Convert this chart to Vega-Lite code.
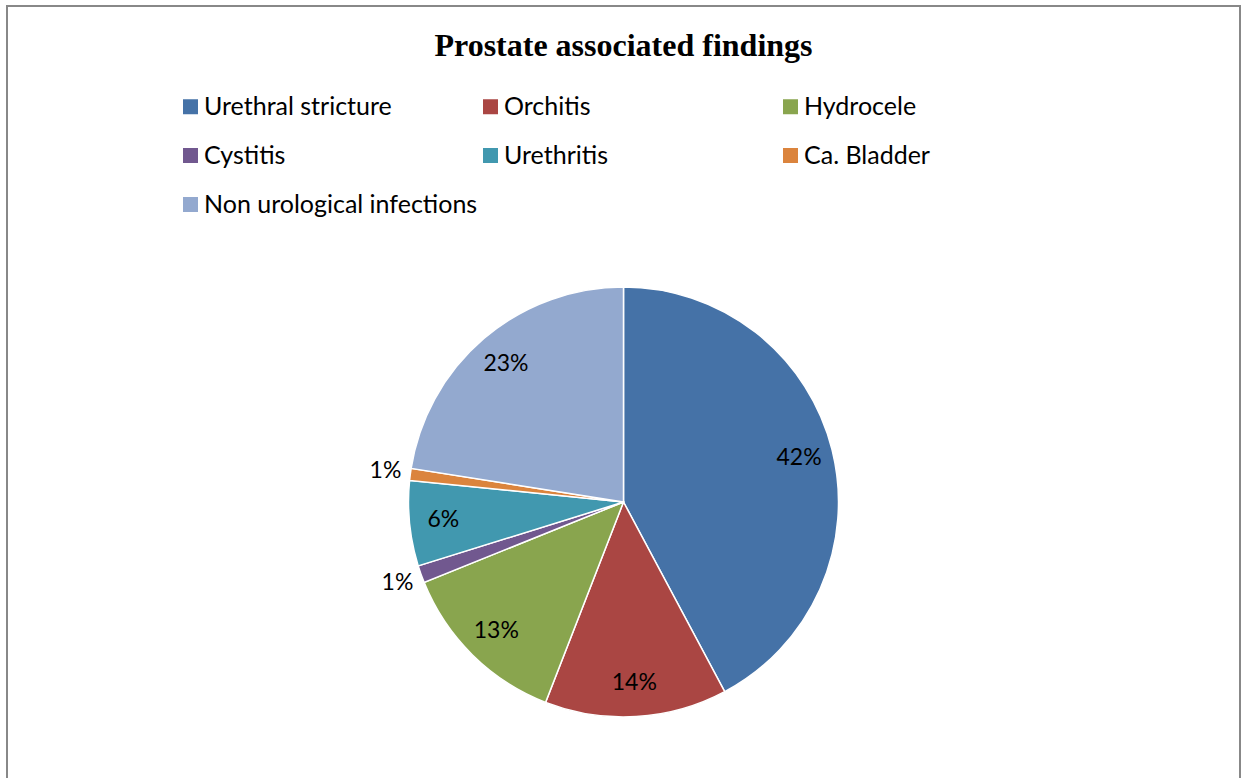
{
  "$schema": "https://vega.github.io/schema/vega-lite/v6.json",
  "autosize": {"type": "none"},
  "padding": {"left": 7, "top": 6, "right": 7, "bottom": -18},
  "width": 1233,
  "height": 790,
  "background": "white",
  "title": {
    "text": "Prostate associated findings",
    "font": "Liberation Serif",
    "fontSize": 32,
    "fontWeight": "bold",
    "color": "black",
    "anchor": "middle",
    "frame": "group",
    "baseline": "alphabetic",
    "offset": -82
  },
  "config": {
    "view": {"stroke": "#888888", "strokeWidth": 2},
    "font": "Lato"
  },
  "data": {
    "values": [
      {"finding": "Urethral stricture", "pct": 42.2, "label": "42%", "order": 1},
      {"finding": "Orchitis", "pct": 13.7, "label": "14%", "order": 2},
      {"finding": "Hydrocele", "pct": 13.0, "label": "13%", "order": 3},
      {"finding": "Cystitis", "pct": 1.3, "label": "1%", "order": 4},
      {"finding": "Urethritis", "pct": 6.4, "label": "6%", "order": 5},
      {"finding": "Ca. Bladder", "pct": 0.9, "label": "1%", "order": 6},
      {"finding": "Non urological infections", "pct": 22.5, "label": "23%", "order": 7}
    ]
  },
  "encoding": {
    "x": {"datum": 0.5, "type": "quantitative", "scale": {"domain": [0, 1], "nice": false, "zero": false}, "axis": null},
    "y": {"datum": 0.37215, "type": "quantitative", "scale": {"domain": [0, 1], "nice": false, "zero": false}, "axis": null},
    "theta": {"field": "pct", "type": "quantitative", "stack": true},
    "order": {"field": "order", "type": "quantitative"},
    "color": {
      "field": "finding",
      "type": "nominal",
      "scale": {
        "domain": ["Urethral stricture", "Orchitis", "Hydrocele", "Cystitis", "Urethritis", "Ca. Bladder", "Non urological infections"],
        "range": ["#4572A7", "#AA4643", "#89A54E", "#71588F", "#4198AF", "#DB843D", "#93A9CF"]
      },
      "legend": {
        "title": null,
        "orient": "none",
        "legendX": 171,
        "legendY": 88,
        "direction": "horizontal",
        "columns": 3,
        "gridAlign": "all",
        "columnPadding": -1,
        "rowPadding": 23,
        "padding": 0,
        "symbolType": "square",
        "symbolSize": 225,
        "symbolStrokeWidth": 0,
        "symbolOpacity": 1,
        "labelFont": "Lato",
        "labelFontSize": 25,
        "labelColor": "black",
        "labelOffset": 1,
        "labelLimit": 500
      }
    }
  },
  "layer": [
    {
      "mark": {"type": "arc", "outerRadius": 215, "stroke": "white", "strokeWidth": 1.5}
    },
    {
      "mark": {"type": "text", "radius": 181, "font": "Lato", "fontSize": 23},
      "encoding": {
        "text": {"condition": {"test": "datum.pct < 2", "value": ""}, "field": "label"},
        "color": {"value": "black"}
      }
    },
    {
      "mark": {"type": "text", "radius": 240, "font": "Lato", "fontSize": 23},
      "encoding": {
        "text": {"condition": {"test": "datum.pct >= 2", "value": ""}, "field": "label"},
        "color": {"value": "black"}
      }
    }
  ]
}
